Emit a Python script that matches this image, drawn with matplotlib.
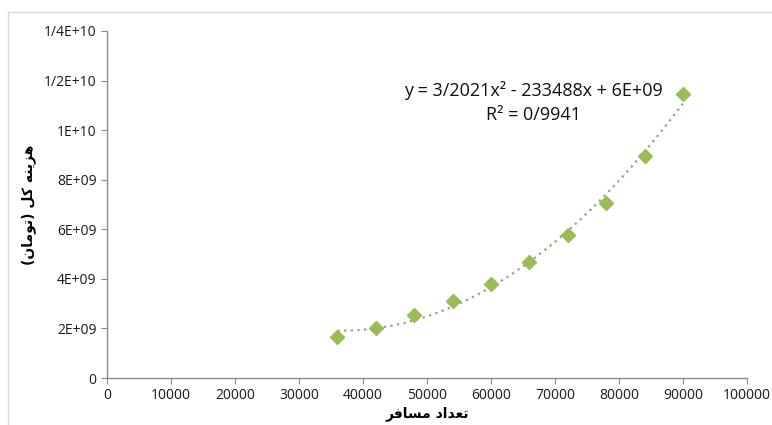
import numpy as np
import matplotlib.pyplot as plt
from matplotlib.lines import Line2D

# داده‌ها
passengers = [36000, 42000, 48000, 54000, 60000, 66000, 72000, 78000, 84000, 90000]
cost = [1.66e9, 2.02e9, 2.55e9, 3.12e9, 3.80e9, 4.66e9, 5.75e9, 7.08e9, 8.95e9, 11.46e9]

x_ticks = [0, 10000, 20000, 30000, 40000, 50000, 60000, 70000, 80000, 90000, 100000]
y_ticks = [0, 2e9, 4e9, 6e9, 8e9, 1e10, 1.2e10, 1.4e10]
y_labels = ['0', '2E+09', '4E+09', '6E+09', '8E+09', '1E+10', '1/2E+10', '1/4E+10']

eq_text = 'y = 3/2021x\u00b2 - 233488x + 6E+09\nR\u00b2 = 0/9941'

# متن فارسی به شکل نمایشی (حروف پیوسته، ترتیب دیداری)
x_label = '\uFEAE\uFED3\uFE8E\uFEB4\uFEE3 \uFEA9\uFE8D\uFEAA\uFECC\uFE97'   # تعداد مسافر
y_label = '(\uFEE5\uFE8E\uFEE3\uFEEE\uFE97) \uFEDE\uFB90 \uFEEA\uFEE8\uFBFE\uFEB0\uFEEB'  # هزینه کل (تومان)

plt.rcParams['font.family'] = ['Open Sans', 'DejaVu Sans']

fig = plt.figure(figsize=(7.72, 4.25), dpi=100)
ax = fig.add_axes([107 / 772, 1 - 378 / 425, 640 / 772, 347 / 425])

axis_c = '#8c8c8c'
green = '#9bbb59'

# خط روند درجه دوم
coef = np.polyfit(passengers, cost, 2)
xx = np.linspace(passengers[0], passengers[-1], 200)
ax.plot(xx, np.polyval(coef, xx), linestyle=(0, (1, 2)), color='#97a27a', lw=1.6, zorder=2)

ax.plot(passengers, cost, linestyle='none', marker='D', ms=7, color=green,
        markeredgecolor=green, zorder=3)

ax.set_xlim(0, 100000)
ax.set_ylim(0, 1.4e10)
ax.set_xticks(x_ticks)
ax.set_xticklabels([str(t) for t in x_ticks])
ax.set_yticks(y_ticks)
ax.set_yticklabels(y_labels)

for s in ['top', 'right']:
    ax.spines[s].set_visible(False)
for s in ['left', 'bottom']:
    ax.spines[s].set_color(axis_c)
    ax.spines[s].set_linewidth(1)
ax.tick_params(axis='both', colors=axis_c, labelcolor='#1a1a1a', labelsize=10,
               length=4, direction='out')

ax.set_xlabel(x_label, family=['DejaVu Sans'], fontsize=10, fontweight='bold',
              labelpad=2)
ax.set_ylabel(y_label, family=['DejaVu Sans'], fontsize=10, fontweight='bold',
              labelpad=6)

ax.text(0.666, 0.793, eq_text, transform=ax.transAxes, ha='center', va='center',
        fontsize=13, linespacing=1.45, color='#111111')

# قاب نمودار
fig.add_artist(Line2D([8 / 772, 1], [1 - 12 / 425] * 2, color='#d9d9d9', lw=1))
fig.add_artist(Line2D([8 / 772] * 2, [0, 1 - 12 / 425], color='#d9d9d9', lw=1))

fig.savefig('out.png', dpi=100)
